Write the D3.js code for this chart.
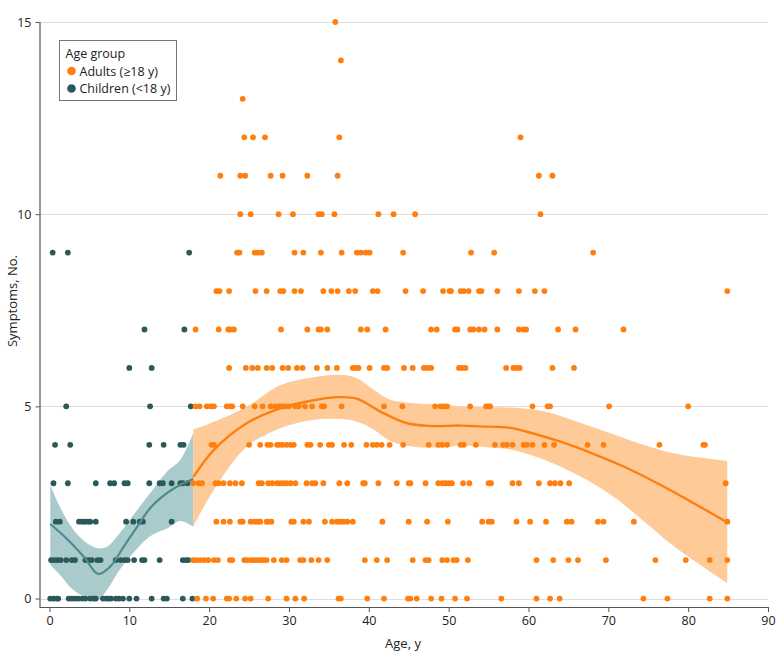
<!DOCTYPE html>
<html>
<head>
<meta charset="utf-8">
<script src="https://cdn.jsdelivr.net/npm/d3@7"></script>
<style>
  html, body { margin: 0; padding: 0; background: #fff; }
  svg { display: block; font-family: "Open Sans", "Noto Sans", sans-serif; }
</style>
</head>
<body>
<svg id="chart" width="780" height="661"></svg>
<script>
// ---- Data ----
// Ages of adults, grouped by number of symptoms (index = symptoms count)
const adultRows = [
  [18.5,19.6,20.5,22.2,22.5,23.4,24.5,25.2,27.4,29.7,30.8,31.9,36.2,36.5,39.8,41.9,44.9,45.2,46.0,47.8,49.1,50.8,52.3,56.6,61.0,62.7,63.9,74.4,77.4,82.7,84.9],
  [18.0,18.4,18.9,19.4,19.9,20.6,21.1,22.6,22.9,24.4,24.7,25.2,25.6,26.0,26.4,26.8,27.2,28.1,29.1,29.7,31.4,31.8,32.8,33.7,34.8,39.5,41.0,42.3,45.5,47.1,47.5,49.2,49.8,50.6,51.0,52.4,61.0,63.1,65.0,66.2,69.7,75.9,79.7,82.7,84.9],
  [20.9,21.8,22.6,23.9,24.2,25.2,25.7,26.1,26.4,27.2,27.4,27.8,30.3,30.6,31.8,32.5,34.5,35.4,36.0,36.4,36.8,37.3,38.0,41.7,45.0,47.3,49.9,54.2,55.0,55.4,58.5,60.2,62.2,64.8,65.4,68.7,69.4,73.2,84.9],
  [18.0,18.7,19.1,20.8,21.2,21.8,22.6,23.3,24.1,26.2,26.6,27.4,27.9,28.5,28.9,29.3,29.7,30.2,30.8,32.2,32.9,33.3,34.3,36.3,37.3,39.3,39.5,41.2,43.5,45.0,45.2,47.1,48.7,49.2,49.6,50.0,50.4,51.8,52.6,55.0,55.3,58.0,58.8,61.3,62.7,63.3,64.0,65.1,84.7],
  [20.3,20.6,25.0,26.4,27.3,27.7,28.5,28.8,29.2,29.7,30.2,30.6,32.3,32.7,33.9,35.0,35.4,36.9,37.8,39.7,40.5,41.0,41.6,42.6,44.3,47.5,48.7,49.2,49.8,51.5,51.9,53.4,55.8,56.8,57.3,58.0,59.4,59.8,60.5,62.0,63.2,67.4,69.4,76.4,81.9,82.1],
  [18.3,18.8,19.7,20.2,20.6,22.2,22.6,22.9,24.2,25.7,26.7,27.7,28.3,28.8,29.1,29.5,30.0,30.8,31.2,32.0,32.9,34.1,34.4,36.6,41.9,44.2,48.3,49.0,49.4,49.8,52.7,54.7,55.0,55.2,60.5,62.4,62.7,70.1,80.0],
  [22.5,24.6,25.4,26.1,27.2,27.9,29.2,29.9,31.0,31.7,33.5,34.8,36.0,38.0,38.4,38.7,40.1,41.9,42.3,44.4,45.5,46.9,47.3,47.8,51.3,51.7,52.1,57.2,58.1,58.5,58.9,63.0,65.7],
  [18.3,21.2,22.4,22.6,23.1,29.0,32.3,33.7,34.0,34.8,39.0,39.8,42.1,47.8,48.5,50.8,51.1,52.7,53.1,53.8,54.5,56.1,58.8,59.4,59.7,63.7,65.9,71.9],
  [20.9,21.3,22.5,25.8,27.2,28.9,29.3,30.7,31.5,34.3,35.3,36.1,37.5,38.3,40.5,41.1,44.6,46.8,49.3,50.1,50.3,51.5,51.9,52.5,53.8,54.1,56.1,58.8,60.8,62.0,84.9],
  [23.5,23.8,25.7,26.1,26.6,30.7,31.8,34.0,36.6,38.5,39.0,39.6,40.1,44.3,52.8,55.7,68.1],
  [23.9,25.2,28.7,30.5,33.7,34.1,35.7,41.2,43.1,45.8,61.5],
  [21.4,23.9,24.5,27.7,29.2,32.3,36.1,61.3,63.0],
  [24.4,25.5,27.0,36.3,59.0],
  [24.2],
  [36.5],
  [35.8]
];
// Ages of children, grouped by number of symptoms
const childRows = [
  [0.1,0.5,0.9,1.1,2.4,2.8,3.2,3.6,4.1,4.5,5.1,5.5,5.8,6.7,7.1,7.4,7.7,8.3,8.7,9.2,10.0,10.9,12.8,14.3,14.7,16.7,17.9],
  [0.2,0.6,1.0,1.4,2.1,2.8,3.2,4.5,4.9,5.3,6.0,6.4,8.3,8.9,9.4,9.8,10.6,11.6,11.9,13.8,16.7,17.1,17.4],
  [0.8,1.3,3.7,4.1,4.4,4.8,5.1,5.8,9.6,10.5,11.3,11.7,15.3],
  [0.5,2.3,5.8,7.6,8.1,9.4,9.8,12.5,13.8,14.2,15.3,16.4,16.7,17.3],
  [0.7,2.6,12.5,14.3,16.4,16.8],
  [2.1,12.6,17.7],
  [10.0,12.8],
  [11.9,16.9],
  [],
  [0.4,2.3,17.5]
];

// Smoothed fits (age, estimate) and confidence bands (age, lower, upper)
const childFitAge = [0.1, 2.2, 4.3, 6.1, 7.6, 9.3, 11.0, 12.6, 14.7, 16.4, 18.0];
const childFitVal = [1.94, 1.55, 1.09, 0.64, 0.83, 1.35, 1.87, 2.35, 2.74, 2.96, 3.11];
const childBandAge = [0.1, 1.3, 3.0, 4.7, 6.1, 7.2, 8.8, 11.0, 12.6, 14.7, 16.4, 18.0];
const childBandHi  = [2.96, 2.39, 1.79, 1.44, 1.31, 1.35, 1.70, 2.31, 2.74, 3.30, 3.61, 4.30];
const childBandLo  = [0.88, 0.62, 0.22, 0.02, -0.03, 0.22, 0.75, 1.30, 1.62, 1.82, 2.02, 1.87];

const adultFitAge = [18.0, 20.6, 24.7, 28.9, 33.1, 36.2, 38.5, 41.4, 44.8, 47.7, 51.5, 54.0, 57.7, 59.8, 64.0, 68.2, 72.4, 76.5, 80.7, 84.9];
const adultFitVal = [3.16, 3.87, 4.56, 4.95, 5.16, 5.24, 5.20, 4.87, 4.56, 4.49, 4.50, 4.48, 4.44, 4.34, 4.08, 3.76, 3.39, 2.96, 2.48, 1.98];
const adultBandAge = [18.0, 20.6, 24.7, 28.9, 33.1, 36.4, 38.5, 40.6, 42.7, 45.6, 49.8, 51.5, 55.0, 57.7, 61.9, 66.1, 70.3, 74.4, 78.6, 84.9];
const adultBandHi  = [4.39, 4.60, 4.99, 5.55, 5.76, 5.82, 5.73, 5.43, 5.17, 5.08, 5.04, 4.99, 4.98, 4.97, 4.87, 4.60, 4.30, 4.00, 3.76, 3.58];
const adultBandLo  = [1.87, 2.83, 3.95, 4.43, 4.65, 4.67, 4.60, 4.40, 4.10, 3.95, 3.94, 3.98, 3.93, 3.88, 3.62, 3.22, 2.70, 2.02, 1.30, 0.40];

const xTicks = [0, 10, 20, 30, 40, 50, 60, 70, 80, 90];
const yTicks = [0, 5, 10, 15];
const legendLabels = ["Adults (\u226518 y)", "Children (<18 y)"];
const legendTitle = "Age group";
const xLabel = "Age, y";
const yLabel = "Symptoms, No.";

// ---- Styles ----
const C = {
  adult: "#ff7f0e", adultLine: "#ff7f0e", adultBand: "#fdca98",
  child: "#2b5859", childLine: "#4f8b8b", childBand: "#a9cbcc",
  grid: "#dedede", axis: "#555", text: "#222"
};

// ---- Layout ----
const svg = d3.select("#chart");
const M = { left: 39.5, right: 768, top: 22, bottom: 607 };
const x = d3.scaleLinear().domain([-1.25, 90]).range([M.left, M.right]);
const y = d3.scaleLinear().domain([-0.22, 15]).range([M.bottom, M.top]);

// grid lines
svg.append("g").selectAll("line").data(yTicks).join("line")
  .attr("x1", M.left).attr("x2", M.right)
  .attr("y1", d => Math.round(y(d)) + 0.5).attr("y2", d => Math.round(y(d)) + 0.5)
  .attr("stroke", C.grid).attr("stroke-width", 1.2);

// axes
const yAxis = d3.axisLeft(y).tickValues(yTicks).tickSize(4).tickPadding(4);
const xAxis = d3.axisBottom(x).tickValues(xTicks).tickSize(5).tickPadding(4);
const gy = svg.append("g").attr("transform", `translate(${M.left},0)`).call(yAxis);
const gx = svg.append("g").attr("transform", `translate(0,${M.bottom})`).call(xAxis);
[gx, gy].forEach(g => {
  g.select(".domain").attr("stroke", C.axis).attr("stroke-width", 1.2);
  g.selectAll(".tick line").attr("stroke", C.axis);
  g.selectAll(".tick text").attr("fill", C.text).style("font-size", "12.5px")
    .style("font-family", '"Open Sans", sans-serif');
});
gy.select(".domain").attr("d", `M0.5,${M.bottom}V${M.top}`);
gx.select(".domain").attr("d", `M${M.left},0.5H${M.right}`);

// bands
const curve = d3.curveCatmullRom.alpha(0.5);
const area = (ages, lo, hi) => d3.area()
  .x((d, i) => x(ages[i])).y0((d, i) => y(lo[i])).y1((d, i) => y(hi[i]))
  .curve(curve)(ages);
svg.append("path").attr("d", area(childBandAge, childBandLo, childBandHi)).attr("fill", C.childBand);
svg.append("path").attr("d", area(adultBandAge, adultBandLo, adultBandHi)).attr("fill", C.adultBand);

// points
function toPoints(rows) {
  const pts = [];
  rows.forEach((ages, s) => ages.forEach(a => pts.push([a, s])));
  return pts;
}
svg.append("g").selectAll("circle").data(toPoints(childRows)).join("circle")
  .attr("cx", d => x(d[0])).attr("cy", d => y(d[1])).attr("r", 2.9).attr("fill", C.child);
svg.append("g").selectAll("circle").data(toPoints(adultRows)).join("circle")
  .attr("cx", d => x(d[0])).attr("cy", d => y(d[1])).attr("r", 2.9).attr("fill", C.adult);

// fit lines
const line = (ages, vals) => d3.line().x((d, i) => x(ages[i])).y((d, i) => y(vals[i]))
  .curve(curve)(ages);
svg.append("path").attr("d", line(childFitAge, childFitVal)).attr("fill", "none")
  .attr("stroke", C.childLine).attr("stroke-width", 2.2);
svg.append("path").attr("d", line(adultFitAge, adultFitVal)).attr("fill", "none")
  .attr("stroke", C.adultLine).attr("stroke-width", 2.4);

// axis titles
svg.append("text").attr("x", 403).attr("y", 648).attr("text-anchor", "middle")
  .attr("fill", C.text).style("font-size", "13px").text(xLabel);
svg.append("text").attr("transform", `translate(17,301) rotate(-90)`)
  .attr("text-anchor", "middle").attr("fill", C.text).style("font-size", "13px").text(yLabel);

// legend
const lg = svg.append("g").attr("transform", "translate(59.5,40.5)");
lg.append("rect").attr("width", 117).attr("height", 60).attr("fill", "#fff")
  .attr("stroke", "#777").attr("stroke-width", 1);
lg.append("text").attr("x", 6).attr("y", 17).attr("fill", C.text).style("font-size", "12.5px").text(legendTitle);
[C.adult, C.child].forEach((col, i) => {
  lg.append("circle").attr("cx", 12).attr("cy", 30.5 + i * 17.5).attr("r", 4.3).attr("fill", col);
  lg.append("text").attr("x", 20).attr("y", 35 + i * 17.5).attr("fill", C.text)
    .style("font-size", "12.5px").text(legendLabels[i]);
});
</script>
</body>
</html>
